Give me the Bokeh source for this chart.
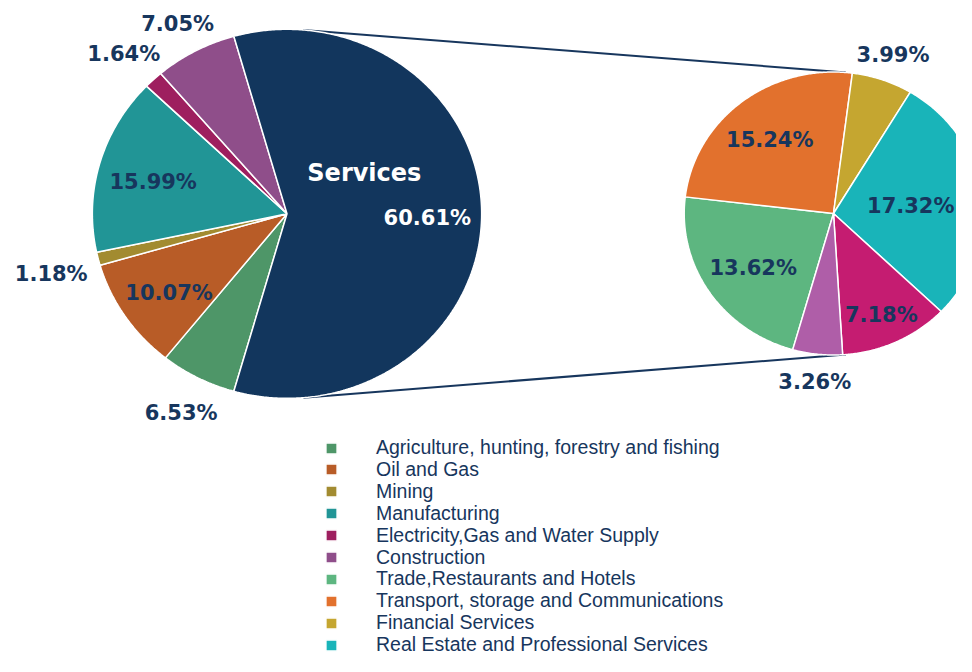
import numpy as np
from bokeh.plotting import figure
from bokeh.models import ColumnDataSource, Range1d, Legend, LegendItem
from bokeh.core.properties import value
from bokeh.embed import file_html
from bokeh.resources import INLINE

# ---------------- data ----------------
main_categories = [
    "Agriculture, hunting, forestry and fishing",
    "Oil and Gas",
    "Mining",
    "Manufacturing",
    "Electricity,Gas and Water Supply",
    "Construction",
    "Services",
]
main_values = [6.53, 10.07, 1.18, 15.99, 1.64, 7.05, 60.61]
main_colors = ["#4E9668", "#B85C27", "#A28B30", "#219596", "#9E1F5F", "#8F4E8A", "#12365D"]

services_categories = [
    "Trade,Restaurants and Hotels",
    "Transport, storage and Communications",
    "Financial Services",
    "Real Estate and Professional Services",
    "Public Administration",
    "Other Services",
]
services_values = [13.62, 15.24, 3.99, 17.32, 7.18, 3.26]
services_colors = ["#5DB680", "#E2712D", "#C5A630", "#19B4B9", "#C51C71", "#AF5EA8"]

# legend rows that are visible in the chart
legend_main_rows = 6       # split-off "Services" slice is not listed
legend_services_rows = 4

# ---------------- layout / style ----------------
NAVY = "#17365D"
W, H = 956, 656
SX = 1.055          # horizontal stretch of the pies (px per data unit)
LABEL_PX = 21
GAP_IN, GAP_OUT, HALF_H = 10, 10, 10
LABEL_DY = 4        # px, labels sit a little low in their boxes
SMALL_SLICE_DEG = 30


def to_dx(px):
    return px / SX


def to_dy(py):
    return H - py


C1 = np.array([to_dx(286.5), to_dy(213.3)])
R1 = 184.5
C2 = np.array([to_dx(833.0), to_dy(213.0)])
R2 = 141.5

START = -0.5 * main_values[-1] / sum(main_values) * 360.0


def build_slices(center, r, values):
    total = float(sum(values))
    xs, ys, mids, spans = [], [], [], []
    a = START
    for v in values:
        span = v / total * 360.0
        a0, a1 = a, a - span
        n = max(int(span * 2), 6)
        t = np.radians(np.linspace(a0, a1, n))
        xs.append([center[0]] + list(center[0] + r * np.cos(t)))
        ys.append([center[1]] + list(center[1] + r * np.sin(t)))
        mids.append((a0 + a1) / 2.0)
        spans.append(span)
        a = a1
    return xs, ys, mids, spans


def text_width(s):
    w = 0.0
    for c in s:
        if c.isdigit():
            w += 0.696
        elif c == ".":
            w += 0.38
        else:
            w += 1.002
    return w * LABEL_PX


def build_labels(center, r, values, mids, spans):
    lx, ly, txt = [], [], []
    for v, m, s in zip(values, mids, spans):
        t = f"{v:.2f}%"
        hw = text_width(t) / 2.0 / SX
        ang = np.radians(m)
        ext = abs(np.cos(ang)) * hw + abs(np.sin(ang)) * HALF_H
        if s < SMALL_SLICE_DEG:
            d = r + GAP_OUT + ext
        else:
            d = r - GAP_IN - ext
        x = center[0] + d * np.cos(ang)
        x = min(max(x, hw + 2 / SX), W / SX - hw - 2 / SX)   # keep text inside the canvas
        lx.append(x)
        ly.append(center[1] + d * np.sin(ang))
        txt.append(t)
    return lx, ly, txt


p = figure(width=W, height=H, x_range=Range1d(0, W / SX), y_range=Range1d(0, H),
           output_backend="svg", toolbar_location=None, min_border=0,
           x_axis_type=None, y_axis_type=None)
p.grid.visible = False
p.outline_line_color = None
p.background_fill_color = "white"

# connector lines: common tangents of the two pies
d = C2 - C1
D = np.hypot(*d)
phi = np.arctan2(d[1], d[0])
theta = np.arccos((R1 - R2) / D)
angs = np.array([phi + theta, phi - theta])
p.segment(x0=C1[0] + R1 * np.cos(angs), y0=C1[1] + R1 * np.sin(angs),
          x1=C2[0] + R2 * np.cos(angs), y1=C2[1] + R2 * np.sin(angs),
          line_color=NAVY, line_width=2)

xs1, ys1, mids1, spans1 = build_slices(C1, R1, main_values)
src1 = ColumnDataSource(dict(xs=xs1, ys=ys1, color=main_colors))
r1 = p.patches("xs", "ys", source=src1, fill_color="color", line_color="white", line_width=1.5)

xs2, ys2, mids2, spans2 = build_slices(C2, R2, services_values)
src2 = ColumnDataSource(dict(xs=xs2, ys=ys2, color=services_colors))
r2 = p.patches("xs", "ys", source=src2, fill_color="color", line_color="white", line_width=1.5)

lx1, ly1, t1 = build_labels(C1, R1, main_values, mids1, spans1)
lx2, ly2, t2 = build_labels(C2, R2, services_values, mids2, spans2)
# value label of the split slice is white, all others navy
colors1 = [NAVY] * (len(t1) - 1) + ["white"]
colors2 = [NAVY] * len(t2)
p.text(x=lx1 + lx2, y=ly1 + ly2, text=t1 + t2, text_color=colors1 + colors2,
       y_offset=LABEL_DY,
       text_font=value("DejaVu Sans"), text_font_style="bold",
       text_font_size=f"{LABEL_PX}px", text_align="center", text_baseline="middle")

# category name of the split slice
p.text(x=[lx1[-1]], y=[ly1[-1]], text=[main_categories[-1]], x_offset=-63, y_offset=-41,
       text_font=value("DejaVu Sans"), text_font_style="bold", text_font_size="24px",
       text_color="white", text_align="center", text_baseline="middle")

# legend: one row per visible category, stacked with a fixed pitch
items = [LegendItem(label=main_categories[i], renderers=[r1], index=i) for i in range(legend_main_rows)]
items += [LegendItem(label=services_categories[i], renderers=[r2], index=i) for i in range(legend_services_rows)]
ITEM_H = 24
LEG_FONT_PX = 19.5
LEG_PITCH = 21.9
LEG_ROW0 = 447.5
for i, item in enumerate(items):
    c = LEG_ROW0 + i * LEG_PITCH
    leg = Legend(items=[item], location=(324, H - c - ITEM_H / 2),
                 glyph_width=14, glyph_height=14, label_standoff=38,
                 label_height=ITEM_H, spacing=0, padding=0, margin=0,
                 border_line_alpha=0, background_fill_alpha=0,
                 label_text_font="Liberation Sans", label_text_font_size=f"{LEG_FONT_PX}px",
                 label_text_color=NAVY)
    p.add_layout(leg)

open("out.html", "w").write(file_html(p, INLINE))
